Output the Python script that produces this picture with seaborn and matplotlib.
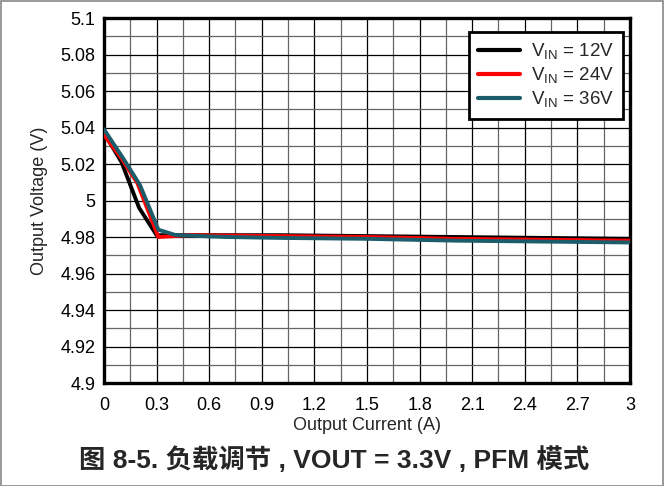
import numpy as np
import pandas as pd
import matplotlib
matplotlib.use("Agg")
import matplotlib.pyplot as plt
from matplotlib.ticker import MultipleLocator
from matplotlib.patches import Rectangle
import seaborn as sns

# Data
x_12 = [0.0, 0.1, 0.2, 0.3, 0.5, 1.0, 1.5, 2.0, 2.5, 3.0]
y_12 = [5.037, 5.021, 4.996, 4.981, 4.981, 4.981, 4.9805, 4.980, 4.9795, 4.979]
x_24 = [0.0, 0.1, 0.19, 0.31, 0.5, 1.0, 1.5, 2.0, 2.5, 3.0]
y_24 = [5.036, 5.023, 5.0096, 4.980, 4.981, 4.9805, 4.980, 4.979, 4.9785, 4.978]
x_36 = [0.0, 0.11, 0.205, 0.31, 0.41, 0.7, 1.0, 1.5, 2.0, 2.5, 3.0]
y_36 = [5.039, 5.023, 5.0085, 4.984, 4.981, 4.980, 4.9795, 4.979, 4.978, 4.9775, 4.977]

series_labels = [r"V$_{\mathregular{IN}}$ = 12V", r"V$_{\mathregular{IN}}$ = 24V", r"V$_{\mathregular{IN}}$ = 36V"]
colors = ["#000000", "#ff0000", "#1b5d6b"]
x_ticks = [0, 0.3, 0.6, 0.9, 1.2, 1.5, 1.8, 2.1, 2.4, 2.7, 3]
x_tick_labels = ["0", "0.3", "0.6", "0.9", "1.2", "1.5", "1.8", "2.1", "2.4", "2.7", "3"]
y_ticks = [4.9, 4.92, 4.94, 4.96, 4.98, 5.0, 5.02, 5.04, 5.06, 5.08, 5.1]
y_tick_labels = ["4.9", "4.92", "4.94", "4.96", "4.98", "5", "5.02", "5.04", "5.06", "5.08", "5.1"]

df = pd.concat([
    pd.DataFrame({"x": x_12, "y": y_12, "s": series_labels[0]}),
    pd.DataFrame({"x": x_24, "y": y_24, "s": series_labels[1]}),
    pd.DataFrame({"x": x_36, "y": y_36, "s": series_labels[2]}),
], ignore_index=True)

sns.set_style("white")
plt.rcParams["font.family"] = ["Liberation Sans", "DejaVu Sans"]
plt.rcParams["mathtext.fontset"] = "custom"
plt.rcParams["mathtext.rm"] = "Liberation Sans"

fig = plt.figure(figsize=(6.64, 4.86), dpi=100)
ax = fig.add_axes([104/664, 1-383/486, (630-104)/664, (383-18)/486])

sns.lineplot(data=df, x="x", y="y", hue="s", palette=colors, hue_order=series_labels,
             sort=False, estimator=None, linewidth=2.8, ax=ax, zorder=3)

ax.set_xlim(0, 3)
ax.set_ylim(4.9, 5.1)
ax.set_xticks(x_ticks)
ax.set_xticklabels(x_tick_labels)
ax.set_yticks(y_ticks)
ax.set_yticklabels(y_tick_labels)
ax.xaxis.set_minor_locator(MultipleLocator(0.15))
ax.yaxis.set_minor_locator(MultipleLocator(0.01))
ax.grid(which="major", color="#000000", linewidth=0.9)
ax.grid(which="minor", color="#666666", linewidth=0.9)
ax.set_axisbelow(True)
ax.tick_params(which="both", length=0, labelsize=13, colors="#000000")
ax.tick_params(axis="y", pad=6)
ax.tick_params(axis="x", pad=10)
for sp in ax.spines.values():
    sp.set_visible(True)
    sp.set_color("#000000")
    sp.set_linewidth(2.4)

ax.set_xlabel("Output Current (A)", fontsize=13, labelpad=2)
ax.set_ylabel("Output Voltage (V)", fontsize=13, labelpad=9)

leg = ax.legend(loc="upper right", bbox_to_anchor=(0.987, 0.962), borderaxespad=0,
                fontsize=13.5, frameon=True,
                fancybox=False, edgecolor="#000000", framealpha=1, handlelength=2.2,
                borderpad=0.5, labelspacing=0.2, handletextpad=0.6)
leg.get_frame().set_linewidth(2.0)
for line in leg.get_lines():
    line.set_linewidth(3)

fig.text(334/664, 1-460/486, "图 8-5. 负载调节 , VOUT = 3.3V , PFM 模式", ha="center", va="center",
         fontsize=19, fontweight="bold", family=["Liberation Sans", "Noto Sans CJK SC"])

fig.patches.append(Rectangle((0.001, 0.001), 0.997, 0.997, transform=fig.transFigure,
                             fill=False, edgecolor="#888888", linewidth=1.2))

fig.savefig("out.png", dpi=100)
